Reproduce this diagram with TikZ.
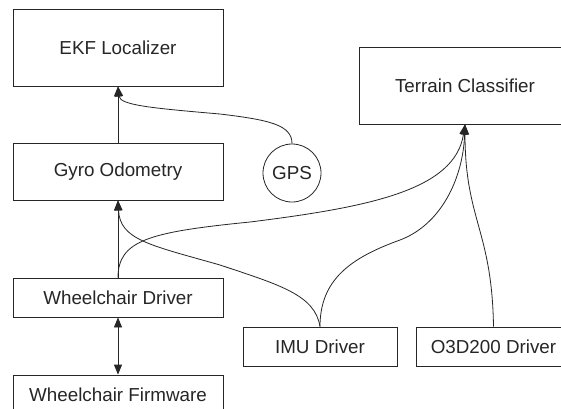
\documentclass[tikz,border=0pt]{standalone}
\usepackage{fontspec}
\setmainfont{Liberation Sans}
\usetikzlibrary{arrows.meta}
\tikzset{module/.style = {draw=black!85, line width=0.8pt, inner sep=0pt,
                          minimum width=210pt, minimum height=39pt,
                          font=\fontsize{18.8}{22}\selectfont, text=black!85},
         link/.style = {draw=black!85, line width=0.8pt,
                        -{Triangle[length=10pt, width=8pt]}}}
\definecolor{paper}{rgb}{1, 1, 1}

\begin{document}
\begin{tikzpicture}[x=1pt, y=-1pt]
      \useasboundingbox (0, 0) rectangle (561, 408);
      \clip (0, 0) rectangle (561, 408);
      \fill [paper] (0, 0) rectangle (561, 408);

      \node [module, minimum height=77pt] (ekf) at (118, 47.5) {EKF Localizer};
      \node [module, minimum height=57pt] (gyro) at (118, 171.5) {Gyro Odometry};
      \node [module] (wcdrv) at (118, 297.5) {Wheelchair Driver};
      \node [module] (wcfw) at (118, 394.5) {Wheelchair Firmware};
      \node [module, minimum width=154pt] (imu) at (320, 346.5) {IMU Driver};
      \node [module, minimum width=155pt] (o3d) at (493.5, 346.5) {O3D200 Driver};
      \node [module, minimum width=212pt, minimum height=77pt] (terrain) at (465, 85.5) {Terrain Classifier};
      \node [module, circle, minimum width=58pt, minimum height=58pt] (gps) at (292, 173) {GPS};

      % odometry chain
      \draw [link] (gyro.north) -- (ekf.south);
      \draw [link] (wcdrv.north) -- (gyro.south);
      \draw [link, {Triangle[length=10pt, width=8pt]}-{Triangle[length=10pt, width=8pt]}]
            (wcdrv.south) -- (wcfw.north);

      \draw [link] (gps.north) .. controls (292, 125) and (270, 120) .. (220, 114)
                   .. controls (150, 108) and (120, 105) .. (ekf.south);
      \draw [link] (imu.north) .. controls (315, 295) and (280, 285) .. (220, 265)
                   .. controls (150, 245) and (120, 240) .. (gyro.south);

      % inputs of the classifier
      \draw [link] (wcdrv.north) .. controls (118, 240) and (150, 232) .. (250, 222)
                   .. controls (370, 207) and (455, 190) .. (terrain.south);
      \draw [link] (imu.north) .. controls (320, 280) and (350, 258) .. (400, 240)
                   .. controls (440, 225) and (463, 180) .. (terrain.south);
      \draw [link] (o3d.north) .. controls (492, 230) and (465, 220) .. (terrain.south);
    \end{tikzpicture}
\end{document}
